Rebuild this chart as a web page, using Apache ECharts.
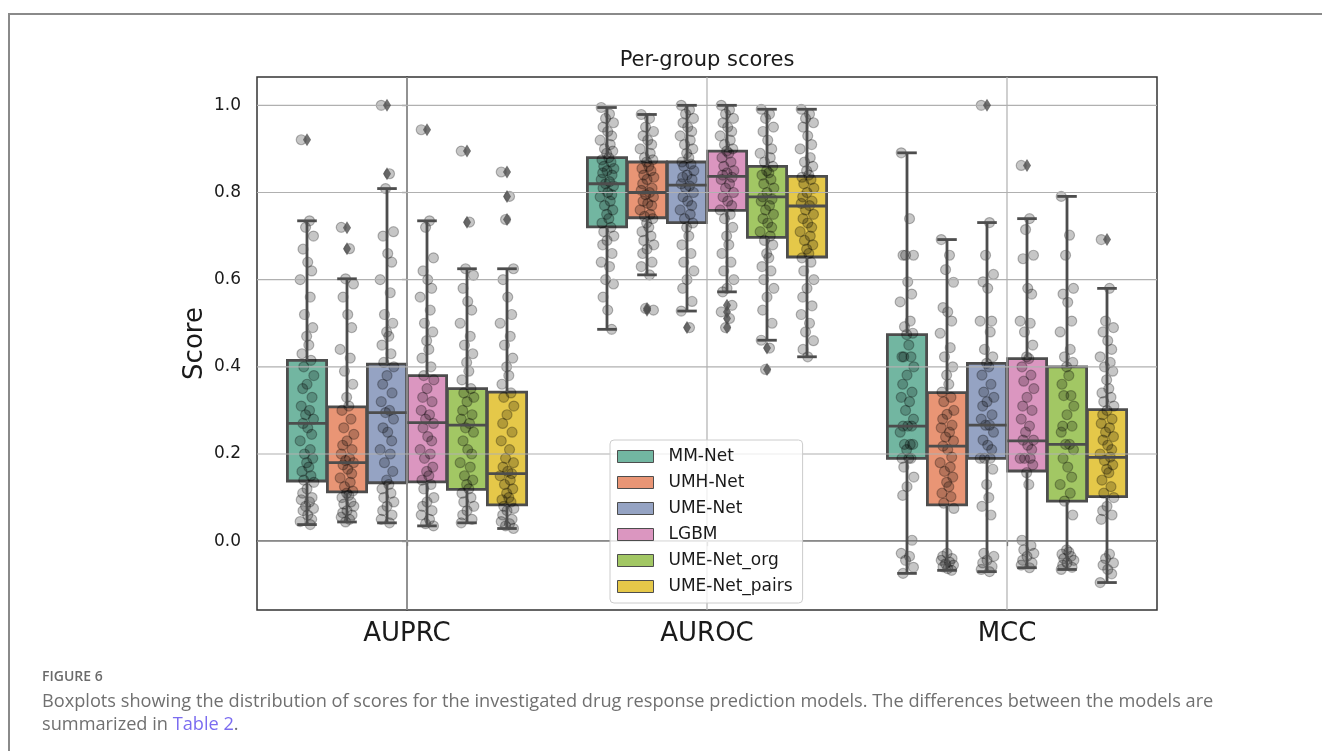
<!DOCTYPE html>
<html>
<head>
<meta charset="utf-8">
<script src="https://cdn.jsdelivr.net/npm/echarts@6/dist/echarts.min.js"></script>
<style>
html, body { margin: 0; padding: 0; background: #fff; }
#chartBox { width: 1322px; height: 751px; }
</style>
</head>
<body>
<div id="chartBox"></div>
<script>
const categories = ['AUPRC', 'AUROC', 'MCC'];
const models = ['MM-Net', 'UMH-Net', 'UME-Net', 'LGBM', 'UME-Net_org', 'UME-Net_pairs'];
const yTicks = [0, 0.2, 0.4, 0.6, 0.8, 1.0];

// box stats [min, Q1, median, Q3, max] for AUPRC, AUROC, MCC
const mmNetBox = [[0.038, 0.138, 0.270, 0.415, 0.735], [0.486, 0.721, 0.820, 0.880, 0.995], [-0.074, 0.190, 0.264, 0.474, 0.891]];
const umhNetBox = [[0.044, 0.113, 0.180, 0.308, 0.602], [0.611, 0.742, 0.800, 0.870, 0.979], [-0.067, 0.083, 0.218, 0.341, 0.692]];
const umeNetBox = [[0.042, 0.134, 0.295, 0.406, 0.809], [0.528, 0.731, 0.817, 0.870, 1.000], [-0.070, 0.190, 0.266, 0.408, 0.731]];
const lgbmBox = [[0.035, 0.136, 0.272, 0.380, 0.735], [0.572, 0.759, 0.837, 0.895, 1.000], [-0.061, 0.161, 0.230, 0.419, 0.740]];
const umeOrgBox = [[0.042, 0.119, 0.266, 0.350, 0.625], [0.461, 0.697, 0.790, 0.860, 0.991], [-0.065, 0.092, 0.222, 0.400, 0.791]];
const umePairsBox = [[0.029, 0.083, 0.155, 0.342, 0.625], [0.423, 0.652, 0.769, 0.837, 0.991], [-0.095, 0.102, 0.192, 0.302, 0.580]];

// outliers (diamonds)
const mmNetOut = [[0.921], [], []];
const umhNetOut = [[0.719, 0.671], [0.534, 0.530], []];
const umeNetOut = [[1.0, 0.843], [0.490], [1.0]];
const lgbmOut = [[0.944], [0.541, 0.526, 0.511, 0.490], [0.862]];
const umeOrgOut = [[0.895, 0.732], [0.443, 0.394], []];
const umePairsOut = [[0.847, 0.791, 0.738], [], [0.692]];

// individual scores (strip points)
const mmNetPts = [
  [0.921, 0.735, 0.72, 0.70, 0.67, 0.64, 0.62, 0.60, 0.56, 0.52, 0.49, 0.47, 0.45, 0.43, 0.415, 0.40, 0.38, 0.36, 0.35, 0.33, 0.31, 0.30, 0.29, 0.28, 0.27, 0.26, 0.245, 0.23, 0.21, 0.20, 0.19, 0.18, 0.17, 0.16, 0.15, 0.14, 0.135, 0.12, 0.11, 0.10, 0.095, 0.09, 0.08, 0.075, 0.07, 0.06, 0.05, 0.045, 0.038],
  [0.995, 0.98, 0.97, 0.96, 0.95, 0.94, 0.93, 0.92, 0.91, 0.90, 0.895, 0.89, 0.88, 0.875, 0.87, 0.86, 0.855, 0.85, 0.845, 0.84, 0.83, 0.825, 0.82, 0.815, 0.81, 0.80, 0.795, 0.79, 0.78, 0.77, 0.76, 0.75, 0.74, 0.73, 0.72, 0.71, 0.70, 0.69, 0.68, 0.66, 0.64, 0.63, 0.60, 0.59, 0.56, 0.53, 0.486],
  [0.891, 0.74, 0.656, 0.656, 0.656, 0.595, 0.567, 0.549, 0.505, 0.492, 0.477, 0.474, 0.45, 0.423, 0.423, 0.423, 0.40, 0.381, 0.36, 0.342, 0.33, 0.32, 0.30, 0.28, 0.264, 0.264, 0.264, 0.25, 0.222, 0.222, 0.222, 0.21, 0.19, 0.19, 0.19, 0.17, 0.147, 0.125, 0.105, 0.002, -0.028, -0.035, -0.044, -0.06, -0.074]
];
const umhNetPts = [
  [0.72, 0.671, 0.602, 0.59, 0.56, 0.52, 0.49, 0.44, 0.42, 0.39, 0.36, 0.33, 0.31, 0.30, 0.28, 0.26, 0.245, 0.23, 0.22, 0.21, 0.20, 0.19, 0.185, 0.18, 0.175, 0.165, 0.155, 0.145, 0.135, 0.125, 0.115, 0.11, 0.105, 0.10, 0.09, 0.085, 0.08, 0.07, 0.065, 0.06, 0.055, 0.05, 0.044],
  [0.979, 0.97, 0.95, 0.94, 0.93, 0.92, 0.91, 0.90, 0.89, 0.88, 0.875, 0.87, 0.86, 0.855, 0.85, 0.84, 0.835, 0.83, 0.82, 0.81, 0.805, 0.80, 0.795, 0.79, 0.78, 0.775, 0.77, 0.76, 0.75, 0.745, 0.74, 0.73, 0.72, 0.71, 0.70, 0.69, 0.68, 0.67, 0.66, 0.64, 0.63, 0.611, 0.534, 0.53],
  [0.692, 0.656, 0.623, 0.594, 0.536, 0.526, 0.505, 0.477, 0.444, 0.423, 0.40, 0.381, 0.36, 0.342, 0.33, 0.32, 0.30, 0.291, 0.28, 0.266, 0.26, 0.25, 0.239, 0.23, 0.218, 0.21, 0.193, 0.18, 0.17, 0.16, 0.147, 0.135, 0.125, 0.11, 0.102, 0.087, 0.075, -0.028, -0.035, -0.04, -0.044, -0.048, -0.052, -0.055, -0.059, -0.063, -0.067]
];
const umeNetPts = [
  [1.0, 0.843, 0.809, 0.71, 0.70, 0.66, 0.64, 0.60, 0.57, 0.52, 0.50, 0.48, 0.47, 0.45, 0.43, 0.41, 0.40, 0.38, 0.36, 0.34, 0.32, 0.30, 0.295, 0.28, 0.26, 0.25, 0.23, 0.21, 0.20, 0.18, 0.16, 0.14, 0.13, 0.12, 0.11, 0.10, 0.09, 0.08, 0.07, 0.06, 0.05, 0.042],
  [1.0, 0.99, 0.98, 0.97, 0.96, 0.95, 0.94, 0.93, 0.92, 0.91, 0.90, 0.89, 0.88, 0.87, 0.865, 0.86, 0.85, 0.84, 0.835, 0.83, 0.82, 0.815, 0.81, 0.80, 0.79, 0.78, 0.77, 0.76, 0.75, 0.74, 0.73, 0.72, 0.70, 0.68, 0.66, 0.64, 0.62, 0.60, 0.58, 0.55, 0.528, 0.49],
  [1.0, 0.731, 0.656, 0.612, 0.595, 0.58, 0.505, 0.505, 0.48, 0.44, 0.423, 0.408, 0.40, 0.381, 0.36, 0.342, 0.33, 0.32, 0.31, 0.29, 0.28, 0.266, 0.266, 0.25, 0.232, 0.22, 0.21, 0.19, 0.19, 0.19, 0.165, 0.13, 0.10, 0.08, 0.06, -0.028, -0.035, -0.044, -0.05, -0.058, -0.065, -0.07]
];
const lgbmPts = [
  [0.944, 0.735, 0.72, 0.65, 0.62, 0.60, 0.58, 0.56, 0.53, 0.50, 0.48, 0.46, 0.44, 0.42, 0.40, 0.38, 0.37, 0.35, 0.33, 0.32, 0.30, 0.29, 0.28, 0.27, 0.26, 0.24, 0.23, 0.21, 0.20, 0.19, 0.17, 0.16, 0.15, 0.14, 0.13, 0.12, 0.10, 0.09, 0.08, 0.07, 0.06, 0.05, 0.04, 0.035],
  [1.0, 0.99, 0.98, 0.97, 0.96, 0.95, 0.94, 0.93, 0.92, 0.91, 0.90, 0.895, 0.89, 0.88, 0.87, 0.86, 0.85, 0.845, 0.84, 0.835, 0.83, 0.82, 0.81, 0.80, 0.79, 0.78, 0.77, 0.76, 0.75, 0.74, 0.72, 0.70, 0.68, 0.66, 0.64, 0.62, 0.60, 0.58, 0.572, 0.541, 0.526, 0.511, 0.49],
  [0.862, 0.74, 0.715, 0.656, 0.648, 0.58, 0.567, 0.505, 0.50, 0.48, 0.45, 0.423, 0.419, 0.40, 0.381, 0.367, 0.35, 0.33, 0.31, 0.30, 0.28, 0.264, 0.25, 0.232, 0.232, 0.22, 0.21, 0.19, 0.19, 0.19, 0.175, 0.157, 0.13, 0.002, -0.01, -0.02, -0.028, -0.035, -0.044, -0.05, -0.055, -0.061]
];
const umeOrgPts = [
  [0.895, 0.732, 0.625, 0.61, 0.58, 0.55, 0.53, 0.50, 0.47, 0.45, 0.43, 0.41, 0.39, 0.37, 0.35, 0.34, 0.33, 0.32, 0.30, 0.29, 0.28, 0.27, 0.26, 0.25, 0.23, 0.21, 0.20, 0.18, 0.17, 0.15, 0.14, 0.13, 0.12, 0.11, 0.10, 0.09, 0.08, 0.07, 0.06, 0.05, 0.042],
  [0.991, 0.98, 0.97, 0.95, 0.94, 0.92, 0.90, 0.89, 0.88, 0.87, 0.86, 0.85, 0.845, 0.84, 0.83, 0.82, 0.81, 0.80, 0.79, 0.785, 0.78, 0.77, 0.76, 0.75, 0.74, 0.73, 0.72, 0.71, 0.70, 0.69, 0.68, 0.66, 0.65, 0.63, 0.62, 0.60, 0.58, 0.56, 0.53, 0.50, 0.461, 0.443, 0.394],
  [0.791, 0.702, 0.656, 0.58, 0.567, 0.548, 0.505, 0.48, 0.44, 0.423, 0.41, 0.40, 0.38, 0.36, 0.334, 0.334, 0.31, 0.29, 0.264, 0.264, 0.25, 0.222, 0.222, 0.21, 0.19, 0.17, 0.147, 0.13, 0.11, 0.092, 0.06, -0.02, -0.025, -0.03, -0.035, -0.04, -0.044, -0.05, -0.055, -0.06, -0.065]
];
const umePairsPts = [
  [0.847, 0.791, 0.738, 0.625, 0.60, 0.56, 0.52, 0.50, 0.47, 0.45, 0.42, 0.40, 0.38, 0.36, 0.34, 0.33, 0.31, 0.29, 0.27, 0.25, 0.23, 0.21, 0.19, 0.18, 0.17, 0.16, 0.155, 0.15, 0.14, 0.13, 0.12, 0.11, 0.10, 0.095, 0.09, 0.08, 0.075, 0.07, 0.06, 0.05, 0.045, 0.04, 0.035, 0.029],
  [0.991, 0.98, 0.97, 0.96, 0.95, 0.93, 0.91, 0.90, 0.88, 0.87, 0.86, 0.85, 0.84, 0.835, 0.83, 0.82, 0.81, 0.80, 0.79, 0.78, 0.775, 0.77, 0.76, 0.75, 0.74, 0.73, 0.72, 0.71, 0.70, 0.69, 0.68, 0.67, 0.66, 0.65, 0.64, 0.62, 0.60, 0.58, 0.56, 0.54, 0.52, 0.50, 0.48, 0.46, 0.44, 0.423],
  [0.692, 0.58, 0.505, 0.49, 0.48, 0.46, 0.44, 0.423, 0.41, 0.40, 0.39, 0.37, 0.35, 0.34, 0.33, 0.32, 0.31, 0.30, 0.29, 0.28, 0.27, 0.26, 0.25, 0.24, 0.232, 0.22, 0.21, 0.20, 0.193, 0.185, 0.175, 0.165, 0.157, 0.14, 0.125, 0.11, 0.10, 0.08, 0.07, 0.06, 0.05, -0.03, -0.04, -0.05, -0.055, -0.065, -0.075, -0.095]
];

const boxes = [mmNetBox, umhNetBox, umeNetBox, lgbmBox, umeOrgBox, umePairsBox];
const outliers = [mmNetOut, umhNetOut, umeNetOut, lgbmOut, umeOrgOut, umePairsOut];
const points = [mmNetPts, umhNetPts, umeNetPts, lgbmPts, umeOrgPts, umePairsPts];

// seaborn Set2, desaturated
const colors = ['#72b6a1', '#e99575', '#95a3c3', '#db96c0', '#a2c764', '#e5c849'];
const edge = '#4d4d4d';
const font = 'DejaVu Sans';
// fixed strip offsets (fraction of jitter width)
const jitter = [-0.8, 0.35, -0.2, 0.9, -0.55, 0.1, 0.65, -0.95, 0.45, -0.35, 0.8, -0.05, 0.25, -0.7, 0.55, -0.45, 0.95, 0.0, -0.6, 0.7];

const slot = 0.8 / models.length;
function slotX (c, k) {
  return c + (k - (models.length - 1) / 2) * slot;
}

function boxFill (k) {
  return function (params, api) {
    const c = api.value(0);
    const xc = api.coord([slotX(c, k), 0])[0];
    const w = api.size([slot, 0])[0] * 0.98;
    const yQ1 = api.coord([0, api.value(2)])[1];
    const yQ3 = api.coord([0, api.value(4)])[1];
    return {
      type: 'rect',
      shape: { x: xc - w / 2, y: yQ3, width: w, height: yQ1 - yQ3 },
      style: { fill: colors[k], stroke: edge, lineWidth: 2.8 }
    };
  };
}

function boxLines (k) {
  return function (params, api) {
    const c = api.value(0);
    const xc = api.coord([slotX(c, k), 0])[0];
    const w = api.size([slot, 0])[0] * 0.98;
    const y = [1, 2, 3, 4, 5].map(i => api.coord([0, api.value(i)])[1]);
    const st = { stroke: edge, lineWidth: 2.8 };
    return {
      type: 'group',
      children: [
        { type: 'line', shape: { x1: xc, y1: y[1], x2: xc, y2: y[0] }, style: st },
        { type: 'line', shape: { x1: xc, y1: y[3], x2: xc, y2: y[4] }, style: st },
        { type: 'line', shape: { x1: xc - w / 4, y1: y[0], x2: xc + w / 4, y2: y[0] }, style: st },
        { type: 'line', shape: { x1: xc - w / 4, y1: y[4], x2: xc + w / 4, y2: y[4] }, style: st },
        { type: 'line', shape: { x1: xc - w / 2, y1: y[2], x2: xc + w / 2, y2: y[2] }, style: st }
      ]
    };
  };
}

const series = [];
models.forEach(function (m, k) {
  series.push({
    name: m,
    type: 'custom',
    z: 2,
    itemStyle: { color: colors[k] },
    renderItem: boxFill(k),
    data: boxes[k].map((b, c) => [c].concat(b))
  });
  let pts = [];
  points[k].forEach(function (list, c) {
    list.forEach(function (v, i) {
      pts.push([slotX(c, k) + jitter[i % jitter.length] * 0.024, v]);
    });
  });
  series.push({
    name: m + ' points',
    type: 'scatter',
    z: 3,
    symbol: 'circle',
    symbolSize: 10,
    itemStyle: { color: 'rgba(0,0,0,0.28)', borderColor: 'rgba(0,0,0,0.34)', borderWidth: 1.2 },
    data: pts
  });
  series.push({
    name: m + ' whiskers',
    type: 'custom',
    z: 5,
    renderItem: boxLines(k),
    data: boxes[k].map((b, c) => [c].concat(b))
  });
  let out = [];
  outliers[k].forEach(function (list, c) {
    list.forEach(v => out.push([slotX(c, k), v]));
  });
  series.push({
    name: m + ' outliers',
    type: 'scatter',
    z: 5,
    symbol: 'diamond',
    symbolSize: [8, 13],
    itemStyle: { color: edge },
    data: out
  });
});

// grid lines on top of the boxes, as matplotlib draws them
series.push({
  type: 'custom',
  z: 4,
  silent: true,
  renderItem: function (params, api) {
    const cs = params.coordSys;
    const y = api.coord([0, api.value(1)])[1];
    return { type: 'line', shape: { x1: cs.x, y1: y, x2: cs.x + cs.width, y2: y }, style: { stroke: '#b0b0b0', lineWidth: 1.2 } };
  },
  data: yTicks.map(v => [0, v])
});
series.push({
  type: 'custom',
  z: 4,
  silent: true,
  renderItem: function (params, api) {
    const cs = params.coordSys;
    const x = api.coord([api.value(0), 0])[0];
    return { type: 'line', shape: { x1: x, y1: cs.y, x2: x, y2: cs.y + cs.height }, style: { stroke: '#b0b0b0', lineWidth: 1.2 } };
  },
  data: categories.map((c, i) => [i, 0])
});

const myChart = echarts.init(document.getElementById('chartBox'));
myChart.setOption({
  animation: false,
  grid: { left: 257, right: 165, top: 77, bottom: 141, show: true, borderColor: '#333', borderWidth: 1.5 },
  xAxis: {
    type: 'value',
    min: -0.5,
    max: 2.5,
    axisLine: { show: true, lineStyle: { color: '#333', width: 1.5 } },
    axisTick: { show: true, customValues: [0, 1, 2], length: 5, lineStyle: { color: '#333', width: 1.2 } },
    axisLabel: {
      customValues: [0, 1, 2],
      formatter: v => categories[Math.round(v)],
      fontFamily: font, fontSize: 26, color: '#1a1a1a', margin: 11
    },
    splitLine: { show: false }
  },
  yAxis: {
    type: 'value',
    min: -0.158,
    max: 1.065,
    name: 'Score',
    nameLocation: 'middle',
    nameGap: 49,
    nameMoveOverlap: false,
    nameTextStyle: { fontFamily: font, fontSize: 26, color: '#1a1a1a' },
    axisLine: { show: true, lineStyle: { color: '#333', width: 1.5 } },
    axisTick: { show: true, customValues: yTicks, length: 5, lineStyle: { color: '#333', width: 1.2 } },
    axisLabel: {
      customValues: yTicks,
      formatter: v => v.toFixed(1),
      fontFamily: font, fontSize: 17, color: '#1a1a1a', margin: 16
    },
    splitLine: { show: false }
  },
  legend: {
    data: models.map((m, k) => ({ name: m, icon: 'rect', itemStyle: { color: colors[k], borderColor: edge, borderWidth: 1 } })),
    orient: 'vertical',
    left: 610,
    top: 440,
    itemWidth: 36,
    itemHeight: 12,
    itemGap: 9,
    padding: [8, 10, 8, 7],
    backgroundColor: 'rgba(255,255,255,0.8)',
    borderColor: '#cccccc',
    borderWidth: 1,
    borderRadius: 4,
    selectedMode: false,
    z: 10,
    textStyle: { fontFamily: font, fontSize: 17, color: '#1a1a1a', padding: [0, 0, 0, 10] }
  },
  graphic: [
    { type: 'polyline', shape: { points: [[9, 751], [9, 14], [1322, 14]] }, style: { stroke: '#8a8a8a', lineWidth: 2, fill: null } },
    { type: 'text', x: 707, y: 61, style: { text: 'Per-group scores', font: '21px "DejaVu Sans"', fill: '#1a1a1a', textAlign: 'center', textVerticalAlign: 'middle' } },
    { type: 'text', x: 42, y: 677, style: { text: 'FIGURE 6', font: '600 14px "Open Sans"', fill: '#6b6b6b', textVerticalAlign: 'middle' } },
    { type: 'text', x: 42, y: 702, style: { text: 'Boxplots showing the distribution of scores for the investigated drug response prediction models. The differences between the models are', font: '18.2px "Open Sans"', fill: '#707070', textVerticalAlign: 'middle' } },
    {
      type: 'text', x: 42, y: 725,
      style: {
        text: 'summarized in {link|Table 2}.',
        font: '18.2px "Open Sans"', fill: '#707070', textVerticalAlign: 'middle',
        rich: { link: { fill: '#7b6cf0', font: '18.2px "Open Sans"' } }
      }
    }
  ],
  series: series
});
</script>
</body>
</html>
